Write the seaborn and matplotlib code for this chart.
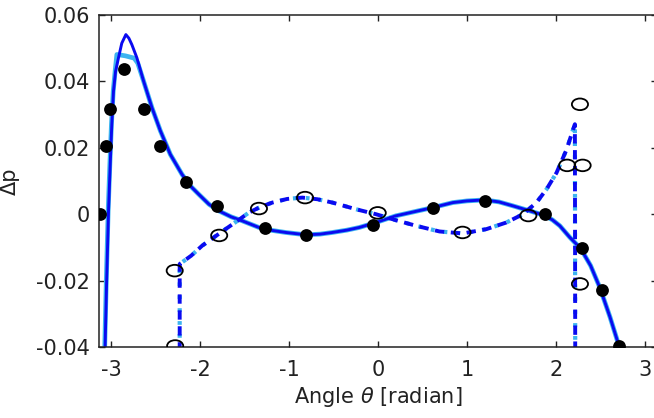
import numpy as np
import pandas as pd
import matplotlib
matplotlib.use("Agg")
import matplotlib.pyplot as plt
from matplotlib.path import Path
from matplotlib.transforms import Affine2D
import seaborn as sns

# Measured Δp for the first configuration (filled markers)
dots_x = [-3.13, -3.06, -3.007, -2.857, -2.627, -2.454, -2.158, -1.808, -1.274,
          -0.805, -0.06, 0.616, 1.198, 1.875, 2.288, 2.52, 2.709]
dots_y = [0.0, 0.0204, 0.0318, 0.0438, 0.0318, 0.0205, 0.0097, 0.0025, -0.0042,
          -0.0063, -0.0033, 0.0018, 0.0040, 0.0, -0.0103, -0.0228, -0.0396]

# Measured Δp for the second configuration (open markers)
circ_x = [-2.28, -2.285, -1.785, -1.338, -0.82, -0.003, 0.95, 1.69, 2.126, 2.27, 2.30, 2.27]
circ_y = [-0.0397, -0.017, -0.0064, 0.0017, 0.005, 0.0004, -0.0055, -0.0004,
          0.0147, 0.0331, 0.0147, -0.021]

# Model curve, first configuration
fit1_x = [-3.072, -3.05, -3.029, -3.01, -2.992, -2.973, -2.95, -2.917, -2.88, -2.834,
          -2.80, -2.767, -2.71, -2.635, -2.541, -2.446, -2.334, -2.203, -2.108, -2.015,
          -1.90, -1.789, -1.65, -1.526, -1.338, -1.187, -1.037, -0.812, -0.65, -0.512,
          -0.35, -0.211, -0.023, 0.2, 0.4, 0.616, 0.841, 1.0, 1.198, 1.36, 1.518, 1.706,
          1.864, 1.96, 2.044, 2.157, 2.277, 2.39, 2.495, 2.608, 2.701, 2.72]
fit1_y = [-0.045, -0.02, 0.001, 0.015, 0.0271, 0.0371, 0.043, 0.0471, 0.0515, 0.0541,
          0.0530, 0.0511, 0.0471, 0.0401, 0.0321, 0.0251, 0.018, 0.012, 0.0085, 0.006,
          0.003, 0.001, -0.0008, -0.002, -0.004, -0.0049, -0.0055, -0.0062, -0.006, -0.0055,
          -0.0048, -0.004, -0.0025, -0.0005, 0.0007, 0.002, 0.0035, 0.004, 0.0043, 0.0037,
          0.0025, 0.001, -0.0003, -0.0017, -0.0035, -0.007, -0.0103, -0.0155, -0.0222,
          -0.031, -0.039, -0.0425]

# Reference curve, first configuration (flattened peak)
ref1_x = [-3.076, -3.054, -3.033, -3.014, -2.996, -2.976, -2.955, -2.935, -2.84, -2.74,
          -2.70, -2.635, -2.541, -2.446, -2.334, -2.203, -2.108, -2.015,
          -1.90, -1.789, -1.65, -1.526, -1.338, -1.187, -1.037, -0.812, -0.65, -0.512,
          -0.35, -0.211, -0.023, 0.2, 0.4, 0.616, 0.841, 1.0, 1.198, 1.36, 1.518, 1.706,
          1.864, 1.96, 2.044, 2.157, 2.277, 2.39, 2.495, 2.608, 2.701, 2.72]
ref1_y = [-0.045, -0.02, 0.001, 0.015, 0.0271, 0.0371, 0.043, 0.0481, 0.0477, 0.0470,
          0.0455, 0.0401, 0.0321, 0.0251, 0.018, 0.012, 0.0085, 0.006,
          0.003, 0.001, -0.0008, -0.002, -0.004, -0.0049, -0.0055, -0.0062, -0.006, -0.0055,
          -0.0048, -0.004, -0.0025, -0.0005, 0.0007, 0.002, 0.0035, 0.004, 0.0043, 0.0037,
          0.0025, 0.001, -0.0003, -0.0017, -0.0035, -0.007, -0.0103, -0.0155, -0.0222,
          -0.031, -0.039, -0.0425]

# Model curve, second configuration
fit2_x = [-2.229, -2.229, -2.10, -1.977, -1.846, -1.714, -1.58, -1.451, -1.32, -1.188,
          -1.02, -0.85, -0.68, -0.512, -0.38, -0.248, -0.023, 0.2, 0.43, 0.691, 0.954,
          1.218, 1.443, 1.63, 1.781, 1.894, 2.007, 2.12, 2.194, 2.213, 2.217]
fit2_y = [-0.045, -0.015, -0.0125, -0.0095, -0.007, -0.0045, -0.002, 0.0005, 0.0022,
          0.0035, 0.0046, 0.005, 0.0045, 0.0035, 0.0025, 0.0015, 0.0, -0.0018, -0.0035,
          -0.0052, -0.0058, -0.0045, -0.0025, 0.0, 0.0035, 0.0075, 0.0125, 0.0195, 0.0256,
          0.0271, -0.045]

x_ticks = [-3, -2, -1, 0, 1, 2, 3]
y_ticks = [-0.04, -0.02, 0, 0.02, 0.04, 0.06]
y_ticklabels = ["-0.04", "-0.02", "0", "0.02", "0.04", "0.06"]

DARK = "#0a0af0"
LIGHT = "#3cb4f0"

sns.set_style("ticks")
plt.rcParams["font.family"] = ["DejaVu Sans"]
plt.rcParams["axes.unicode_minus"] = False

fig = plt.figure(figsize=(6.54, 4.18), dpi=100)
ax = fig.add_axes([98.5 / 654, 71 / 418, 559 / 654, 332 / 418])

f1 = pd.DataFrame({"x": fit1_x, "y": fit1_y})
r1 = pd.DataFrame({"x": ref1_x, "y": ref1_y})
f2 = pd.DataFrame({"x": fit2_x, "y": fit2_y})

sns.lineplot(data=r1, x="x", y="y", sort=False, estimator=None, color=LIGHT,
             linewidth=3.4, ax=ax)
sns.lineplot(data=f1, x="x", y="y", sort=False, estimator=None, color=DARK,
             linewidth=2.1, ax=ax)
sns.lineplot(data=f2, x="x", y="y", sort=False, estimator=None, color=LIGHT,
             linewidth=3.0, ax=ax)
ax.lines[-1].set_linestyle((0, (0.9, 2.2)))
sns.lineplot(data=f2, x="x", y="y", sort=False, estimator=None, color=DARK,
             linewidth=2.8, ax=ax)
ax.lines[-1].set_linestyle((1.0, (2.4, 1.7)))

sns.scatterplot(x=dots_x, y=dots_y, color="black", s=85, linewidth=0, ax=ax, zorder=5)

ellipse = Path.unit_circle().transformed(Affine2D().scale(1.0, 0.72))
sns.scatterplot(x=circ_x, y=circ_y, marker=ellipse, s=135, facecolors="none",
                edgecolor="black", linewidth=1.3, ax=ax, zorder=6)

ax.set_xlim(-np.pi, np.pi)
ax.set_ylim(-0.04, 0.06)
ax.set_xticks(x_ticks)
ax.set_xticklabels([str(t) for t in x_ticks])
ax.set_yticks(y_ticks)
ax.set_yticklabels(y_ticklabels)
ax.tick_params(direction="in", top=True, right=True, length=4, width=1.0,
               labelsize=15, colors="#222222")
ax.tick_params(axis="x", pad=9)
ax.tick_params(axis="y", pad=6)
for sp in ax.spines.values():
    sp.set_visible(True)
    sp.set_linewidth(1.1)
    sp.set_color("#222222")

ax.set_xlabel(r"Angle $\theta$ [radian]", fontsize=15, color="#222222", labelpad=4)
ax.set_ylabel("Δp", fontsize=15, color="#222222", labelpad=12)

fig.savefig("out.png", dpi=100)
